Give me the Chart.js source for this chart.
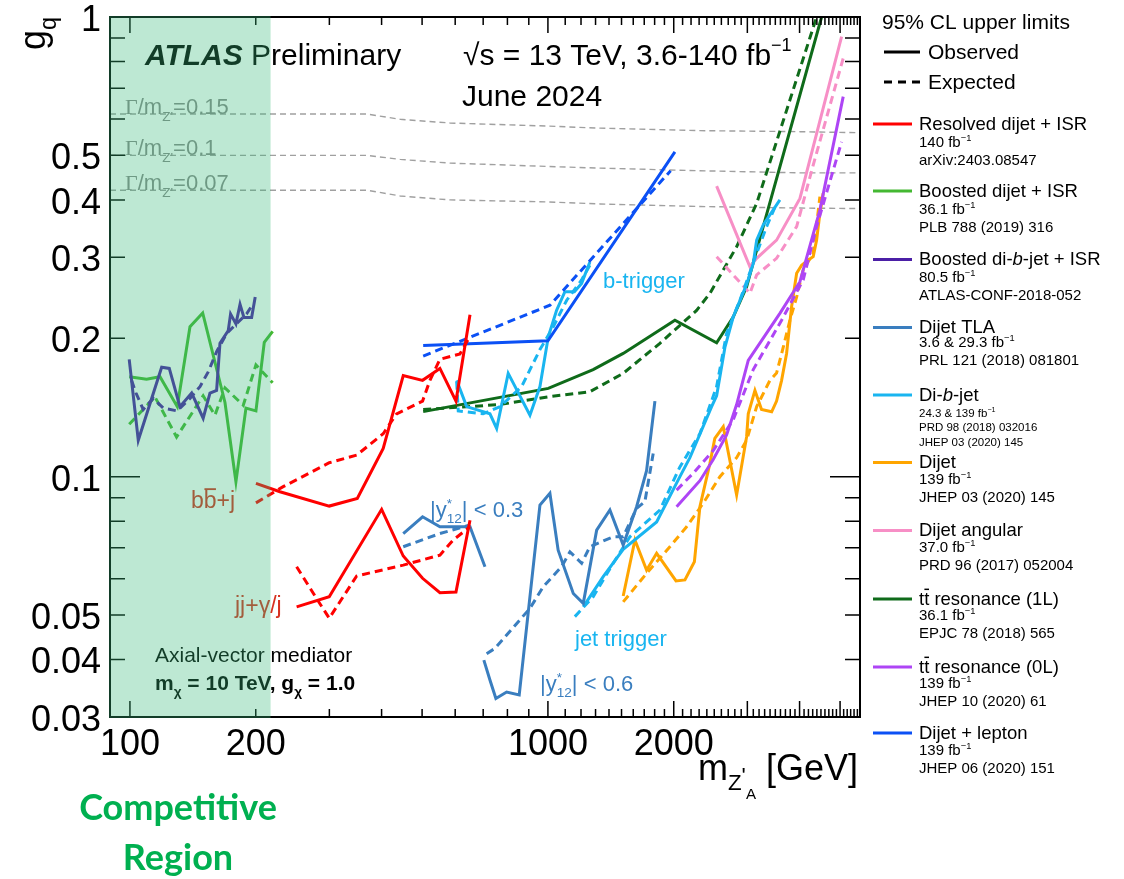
<!DOCTYPE html>
<html>
<head>
<meta charset="utf-8">
<script src="https://cdn.jsdelivr.net/npm/chart.js@4.4.1/dist/chart.umd.min.js"></script>
<style>
html, body { margin: 0; padding: 0; background: #fff; }
canvas { display: block; }
</style>
</head>
<body>
<canvas id="myChart" width="1124" height="879"></canvas>
<script>
// DATA  (points are [mass in GeV, g_q])

const xTickValues = [100, 200, 1000, 2000];
const yTickValues = [0.03, 0.04, 0.05, 0.1, 0.2, 0.3, 0.4, 0.5, 1];

// width lines Gamma/m
const gamma015 = [[89.6, 0.615], [369, 0.615], [443, 0.599], [583, 0.588], [1000, 0.579], [1332, 0.573], [2310, 0.566], [4008, 0.563], [5580, 0.560]];
const gamma010 = [[89.6, 0.500], [369, 0.500], [443, 0.490], [583, 0.481], [1000, 0.473], [1332, 0.469], [2310, 0.463], [4008, 0.458], [5580, 0.458]];
const gamma007 = [[89.6, 0.420], [369, 0.420], [443, 0.408], [583, 0.400], [1000, 0.396], [1332, 0.392], [2310, 0.387], [4008, 0.384], [5580, 0.383]];

// resolved dijet + ISR
const resBbObs = [[200.2, 0.0967], [228.5, 0.0927], [299.8, 0.0863], [349.9, 0.0897], [403.6, 0.1152], [450.7, 0.166], [501.3, 0.162], [551.6, 0.172], [602.6, 0.146], [651, 0.225]];
const resBbExp = [[200.2, 0.0877], [232.6, 0.0951], [299.8, 0.1072], [348.7, 0.1114], [403.6, 0.124], [434.5, 0.137], [501.3, 0.146], [522.1, 0.162], [551.6, 0.180], [616.1, 0.185], [651, 0.202]];
const resJjObs = [[250.5, 0.0521], [299.8, 0.0548], [400.1, 0.0849], [450.7, 0.0672], [501.3, 0.0601], [551.6, 0.0559], [602.6, 0.0561], [651, 0.0804]];
const resJjExp = [[250.5, 0.0637], [279.7, 0.0543], [299.8, 0.0492], [348.7, 0.0608], [450.7, 0.0642], [551.6, 0.0675], [593.5, 0.0728], [651, 0.0778]];

// boosted dijet + ISR
const boostDijetObs = [[99.6, 0.165], [109.6, 0.163], [118, 0.165], [129.8, 0.142], [139.2, 0.212], [149.3, 0.227], [168.8, 0.145], [179.3, 0.0975], [189.5, 0.141], [200.2, 0.139], [209.6, 0.196], [219.5, 0.207]];
const boostDijetExp = [[99.6, 0.130], [114.8, 0.149], [129.3, 0.122], [149.7, 0.150], [159.7, 0.136], [168.8, 0.156], [186.7, 0.143], [200.2, 0.175], [219.5, 0.160]];

// boosted di-b-jet + ISR
const boostBbObs = [[99.6, 0.180], [104.7, 0.120], [119.1, 0.173], [124.2, 0.172], [131.7, 0.142], [140.5, 0.152], [149.7, 0.134], [155.4, 0.152], [161.2, 0.154], [164.2, 0.195], [171.9, 0.208], [174.1, 0.226], [179.3, 0.215], [183.4, 0.237], [187.4, 0.222], [195.5, 0.222], [199.4, 0.246]];
const boostBbExp = [[100.9, 0.162], [103.4, 0.152], [107.6, 0.140], [113.7, 0.148], [120.2, 0.141], [129.8, 0.139], [139.2, 0.148], [147.1, 0.157], [153.9, 0.169], [161.2, 0.187], [170.4, 0.205], [190.2, 0.226], [197.2, 0.238]];

// dijet TLA
const tla03Obs = [[450.7, 0.0752], [501.3, 0.0818], [551.6, 0.0778], [651, 0.0778], [707, 0.0637]];
const tla03Exp = [[450.7, 0.0704], [551.6, 0.0752], [651, 0.0785]];
const tla06Obs = [[702.6, 0.0399], [726.6, 0.0361], [750.8, 0.0329], [796.6, 0.0340], [853.8, 0.0335], [957, 0.0867], [1011, 0.0920], [1058, 0.0692], [1150, 0.0557], [1215, 0.0530], [1308, 0.0765], [1407, 0.0846], [1514, 0.0710], [1630, 0.0860], [1722, 0.103], [1803, 0.146]];
const tla06Exp = [[713.5, 0.0412], [746.6, 0.0423], [905.7, 0.0517], [974.5, 0.0576], [1078, 0.0637], [1129, 0.0686], [1204, 0.0648], [1260, 0.0704], [1433, 0.0740], [1514, 0.0740], [1630, 0.0853], [1706, 0.0882], [1786, 0.1123]];

// di-b-jet
const dibBtrigObs = [[604.9, 0.162], [639.1, 0.142], [726.6, 0.137], [754, 0.1273], [803.5, 0.1678], [905.7, 0.136], [957, 0.157], [1002, 0.2015], [1049, 0.230], [1098, 0.2525], [1157, 0.2525], [1204, 0.2633], [1260, 0.293]];
const dibBtrigExp = [[604.9, 0.161], [610.2, 0.139], [700, 0.137], [767.9, 0.142], [865.1, 0.157], [957, 0.189], [1030, 0.2118], [1109, 0.242], [1204, 0.268], [1260, 0.2885]];
const dibJtrigObs = [[1215, 0.0521], [1356, 0.0606], [1514, 0.0695], [1820, 0.0797], [2069, 0.1000], [2186, 0.110], [2464, 0.142], [2533, 0.150], [2651, 0.191], [2775, 0.2225], [2988, 0.262], [3099, 0.291], [3158, 0.327], [3274, 0.353], [3589, 0.400]];
const dibJtrigExp = [[1160, 0.0496], [1283, 0.0548], [1433, 0.0648], [1571, 0.0740], [1853, 0.0846], [2069, 0.105], [2310, 0.124], [2533, 0.157], [2676, 0.205], [2879, 0.242], [3158, 0.306], [3336, 0.350], [3524, 0.393]];

// dijet
const dijetObs = [[1514, 0.0550], [1615, 0.0728], [1722, 0.0626], [1820, 0.0681], [2025, 0.0593], [2127, 0.0596], [2241, 0.0653], [2310, 0.0860], [2441, 0.1069], [2508, 0.1212], [2627, 0.1284], [2828, 0.0912], [2988, 0.1222], [3015, 0.137], [3128, 0.154], [3244, 0.140], [3430, 0.1384], [3524, 0.146], [3623, 0.162], [3724, 0.1854], [3828, 0.2343], [3936, 0.2769], [4045, 0.2885], [4195, 0.296], [4312, 0.301], [4393, 0.327], [4474, 0.374], [4556, 0.4135]];
const dijetExp = [[1514, 0.0534], [1722, 0.0616], [1958, 0.0704], [2147, 0.0778], [2352, 0.0875], [2579, 0.1000], [2828, 0.110], [2988, 0.120], [3158, 0.142], [3397, 0.162], [3524, 0.168], [3655, 0.191], [3793, 0.219], [3936, 0.246], [4081, 0.282], [4312, 0.306], [4474, 0.4065]];

// dijet angular
const angularObs = [[2533, 0.4287], [3043, 0.2862], [3158, 0.2985], [3524, 0.327], [4008, 0.403], [5042, 0.906]];
const angularExp = [[2533, 0.301], [3043, 0.2505], [3158, 0.2747], [3524, 0.2985], [3936, 0.350], [4312, 0.4764], [5087, 0.813]];

// ttbar resonance 1L / 0L
const tt1LObs = [[503, 0.1385], [1002, 0.1556], [1283, 0.171], [1514, 0.1854], [2013, 0.219], [2533, 0.1956], [2775, 0.2225], [2988, 0.259], [3158, 0.311], [4516, 1.0]];
const tt1LExp = [[503, 0.140], [767.9, 0.1435], [1002, 0.1492], [1260, 0.153], [1514, 0.1678], [1853, 0.195], [2268, 0.230], [2441, 0.2505], [2828, 0.3164], [3158, 0.393], [4393, 1.0]];
const tt0LObs = [[2032, 0.0860], [2310, 0.098], [2486, 0.109], [2676, 0.1232], [2828, 0.1435], [3015, 0.179], [3589, 0.2266], [4008, 0.2655], [4474, 0.380], [5087, 0.671]];
const tt0LExp = [[2032, 0.0935], [2226, 0.1017], [2486, 0.114], [2775, 0.133], [3099, 0.171], [3623, 0.219], [4081, 0.268], [4393, 0.350], [5042, 0.535]];

// dijet + lepton
const lepObs = [[503, 0.193], [1000, 0.1975], [2013, 0.509]];
const lepExp = [[503, 0.183], [616.1, 0.197], [1011, 0.236], [1966, 0.463]];

// COLOURS
const RED = "#ff0000";
const GREEN = "#44b832";
const INDIGO = "#4b1fa6";
const STEEL = "#3a7ebf";
const CYAN = "#19b5f0";
const ORANGE = "#ffa500";
const PINK = "#f78fc6";
const DKGREEN = "#0f6b1a";
const VIOLET = "#ae45f5";
const BLUE = "#0b50f5";
const GRAY = "#a0a0a0";

const SANS = '"Liberation Sans", Arial, Helvetica, sans-serif';
const SERIF = '"Liberation Serif", "DejaVu Serif", serif';

// SET-UP
function curve(points, color, dashed) {
	return {
		data: points.map(p => ({ x: p[0], y: p[1] })),
		borderColor: color,
		borderWidth: 3,
		borderDash: dashed ? [8, 5] : [],
		showLine: true,
		pointRadius: 0,
		fill: false,
		tension: 0,
	};
}

function widthLine(points) {
	const d = curve(points, GRAY, true);
	d.borderWidth = 1.4;
	d.borderDash = [6, 4];
	return d;
}

const datasets = [
	curve(resBbObs, RED), curve(resBbExp, RED, true),
	curve(resJjObs, RED), curve(resJjExp, RED, true),
	curve(boostBbObs, INDIGO), curve(boostBbExp, INDIGO, true),
	curve(boostDijetObs, GREEN), curve(boostDijetExp, GREEN, true),
	curve(lepObs, BLUE), curve(lepExp, BLUE, true),
	curve(tla03Obs, STEEL), curve(tla03Exp, STEEL, true),
	curve(tla06Obs, STEEL), curve(tla06Exp, STEEL, true),
	curve(dibBtrigObs, CYAN), curve(dibBtrigExp, CYAN, true),
	curve(dibJtrigObs, CYAN), curve(dibJtrigExp, CYAN, true),
	curve(tt0LObs, VIOLET), curve(tt0LExp, VIOLET, true),
	curve(dijetObs, ORANGE), curve(dijetExp, ORANGE, true),
	curve(angularObs, PINK), curve(angularExp, PINK, true),
	curve(tt1LObs, DKGREEN), curve(tt1LExp, DKGREEN, true),
	widthLine(gamma015), widthLine(gamma010), widthLine(gamma007),
];

// TEXT HELPER: parts are strings or {t, k (size factor), dy (in base sizes), it, b, f, c, over, stack}
function drawParts(ctx, x, y, parts, size, color, bold) {
	let cx = x;
	ctx.textAlign = "left";
	ctx.textBaseline = "alphabetic";
	parts.forEach(p => {
		if (typeof p === "string") p = { t: p };
		const sz = size * (p.k || 1);
		const st = (p.it ? "italic " : "") + (p.b || bold ? "bold " : "");
		ctx.font = st + sz + "px " + (p.f || SANS);
		ctx.fillStyle = p.c || color;
		if (p.stack) {
			ctx.fillText(p.stack[0], cx, y - 0.42 * size);
			ctx.fillText(p.stack[1], cx, y + 0.28 * size);
			cx += Math.max(ctx.measureText(p.stack[0]).width, ctx.measureText(p.stack[1]).width);
			return;
		}
		const yy = y + (p.dy || 0) * size;
		ctx.fillText(p.t, cx, yy);
		const w = ctx.measureText(p.t).width;
		if (p.over) {
			ctx.strokeStyle = p.c || color;
			ctx.lineWidth = Math.max(1.2, sz * 0.08);
			ctx.setLineDash([]);
			ctx.beginPath();
			ctx.moveTo(cx + w * 0.05, yy - sz * 0.82);
			ctx.lineTo(cx + w * 0.95, yy - sz * 0.82);
			ctx.stroke();
		}
		cx += w;
	});
	return cx;
}

const SUP = { t: "\u22121", k: 0.62, dy: -0.42 };
const SUBZ = { t: "Z'", k: 0.62, dy: 0.3 };
const SUBCHI = { t: "\u03c7", k: 0.65, dy: 0.3 };

const legendItems = [
	{ c: RED, y: 129.5, title: ["Resolved dijet + ISR"], subs: [[147, ["140 fb", SUP]], [165, ["arXiv:2403.08547"]]] },
	{ c: GREEN, y: 196.5, title: ["Boosted dijet + ISR"], subs: [[214, ["36.1 fb", SUP]], [231.5, ["PLB 788 (2019) 316"]]] },
	{ c: INDIGO, y: 265, title: ["Boosted di-", { t: "b", it: 1 }, "-jet + ISR"], subs: [[282, ["80.5 fb", SUP]], [300, ["ATLAS-CONF-2018-052"]]] },
	{ c: STEEL, y: 333, title: ["Dijet TLA"], subs: [[347, ["3.6 & 29.3 fb", SUP]], [364.5, ["PRL 121 (2018) 081801"]]] },
	{ c: CYAN, y: 400.5, title: ["Di-", { t: "b", it: 1 }, "-jet"], subs: [[417, ["24.3 & 139 fb", SUP]], [431, ["PRD 98 (2018) 032016"]], [446, ["JHEP 03 (2020) 145"]]], small: true },
	{ c: ORANGE, y: 468, title: ["Dijet"], subs: [[484, ["139 fb", SUP]], [502, ["JHEP 03 (2020) 145"]]] },
	{ c: PINK, y: 536, title: ["Dijet angular"], subs: [[552, ["37.0 fb", SUP]], [570, ["PRD 96 (2017) 052004"]]] },
	{ c: DKGREEN, y: 604.5, title: ["t", { t: "t", over: 1 }, " resonance (1L)"], subs: [[620, ["36.1 fb", SUP]], [638, ["EPJC 78 (2018) 565"]]] },
	{ c: VIOLET, y: 672.5, title: ["t", { t: "t", over: 1 }, " resonance (0L)"], subs: [[688, ["139 fb", SUP]], [706, ["JHEP 10 (2020) 61"]]] },
	{ c: BLUE, y: 738.5, title: ["Dijet + lepton"], subs: [[755, ["139 fb", SUP]], [773, ["JHEP 06 (2020) 151"]]] },
];

function hline(ctx, x1, x2, y, color, width, dash) {
	ctx.strokeStyle = color;
	ctx.lineWidth = width;
	ctx.setLineDash(dash || []);
	ctx.beginPath();
	ctx.moveTo(x1, y);
	ctx.lineTo(x2, y);
	ctx.stroke();
	ctx.setLineDash([]);
}

const decorations = {
	id: "decorations",
	afterDraw(chart) {
		const ctx = chart.ctx;
		const a = chart.chartArea;
		const xs = chart.scales.x;
		const ys = chart.scales.y;
		ctx.save();

		// texts inside the frame
		drawParts(ctx, 145, 65, [{ t: "ATLAS", it: 1, b: 1 }, " Preliminary"], 30, "#000");
		drawParts(ctx, 463, 65, ["\u221as = 13 TeV, 3.6-140 fb", { t: "\u22121", k: 0.6, dy: -0.48 }], 30, "#000");
		drawParts(ctx, 462, 106, ["June 2024"], 30, "#000");

		const gl = "#8a8a8a";
		drawParts(ctx, 125, 114, [{ t: "\u0393", f: SERIF }, "/m", SUBZ, "=0.15"], 22, gl);
		drawParts(ctx, 125, 155, [{ t: "\u0393", f: SERIF }, "/m", SUBZ, "=0.1"], 22, gl);
		drawParts(ctx, 125, 190, [{ t: "\u0393", f: SERIF }, "/m", SUBZ, "=0.07"], 22, gl);

		const lab = "#d7301f";
		drawParts(ctx, 191, 508, ["b", { t: "b", over: 1 }, "+j"], 23, lab);
		drawParts(ctx, 235, 613, ["jj+\u03b3/j"], 23, lab);
		drawParts(ctx, 430, 517, ["|y", { stack: ["*", "12"], k: 0.62 }, "| < 0.3"], 22, STEEL);
		drawParts(ctx, 540, 691, ["|y", { stack: ["*", "12"], k: 0.62 }, "| < 0.6"], 22, STEEL);
		drawParts(ctx, 603, 288, ["b-trigger"], 22, CYAN);
		drawParts(ctx, 575, 646, ["jet trigger"], 22, CYAN);

		drawParts(ctx, 155, 662, ["Axial-vector mediator"], 21, "#000");
		drawParts(ctx, 155, 690, ["m", SUBCHI, " = 10 TeV, g", SUBCHI, " = 1.0"], 21, "#000", true);

		// ticks
		ctx.strokeStyle = "#000";
		ctx.lineWidth = 1.5;
		ctx.setLineDash([]);
		ctx.beginPath();
		const xLong = [100, 1000, 2000, 3000, 4000, 5000];
		for (let v = 100; v <= 5500; v += 100) {
			const px = xs.getPixelForValue(v);
			const len = xLong.includes(v) ? 16 : 8;
			ctx.moveTo(px, a.bottom); ctx.lineTo(px, a.bottom - len);
			ctx.moveTo(px, a.top); ctx.lineTo(px, a.top + len);
		}
		const yMinor = [];
		for (let i = 3; i <= 9; i++) yMinor.push(i / 100);
		for (let i = 1; i <= 9; i++) yMinor.push(i / 10);
		yMinor.forEach(v => {
			const py = ys.getPixelForValue(v);
			const len = v === 0.1 ? 30 : 15;
			ctx.moveTo(a.left, py); ctx.lineTo(a.left + len, py);
			ctx.moveTo(a.right, py); ctx.lineTo(a.right - len, py);
		});
		ctx.stroke();

		// frame
		ctx.lineWidth = 2;
		ctx.strokeRect(a.left, a.top, a.right - a.left, a.bottom - a.top);

		// competitive region overlay
		const xr = xs.getPixelForValue(217);
		ctx.fillStyle = "rgba(55,185,121,0.33)";
		ctx.fillRect(a.left - 1, a.top - 1, xr - a.left + 1, a.bottom - a.top + 2);

		// legend
		drawParts(ctx, 882, 29, ["95% CL upper limits"], 21, "#000");
		hline(ctx, 884, 920, 52, "#000", 3);
		drawParts(ctx, 928, 59, ["Observed"], 21, "#000");
		hline(ctx, 884, 920, 82, "#000", 3, [8, 6]);
		drawParts(ctx, 928, 89, ["Expected"], 21, "#000");
		legendItems.forEach(it => {
			hline(ctx, 873, 912, it.y - 5.5, it.c, 3);
			drawParts(ctx, 919, it.y, it.title, 18.5, "#000");
			it.subs.forEach(s => drawParts(ctx, 919, s[0], s[1], it.small ? 11.5 : 15, "#000"));
		});

		// axis titles
		drawParts(ctx, 698, 780, ["m", { t: "Z", k: 0.62, dy: 0.28 }, { t: "'", k: 0.62, dy: 0.08 }, { t: "A", k: 0.42, dy: 0.52 }, " [GeV]"], 36, "#000");
		ctx.save();
		ctx.translate(45, 50);
		ctx.rotate(-Math.PI / 2);
		drawParts(ctx, 0, 0, ["g", { t: "q", k: 0.65, dy: 0.3 }], 36, "#000");
		ctx.restore();

		// competitive region caption
		ctx.font = "bold 36px Lato, 'Open Sans', sans-serif";
		ctx.fillStyle = "#00b050";
		ctx.textAlign = "center";
		ctx.fillText("Competitive", 178, 820);
		ctx.fillText("Region", 178, 870);

		ctx.restore();
	},
};

function noEdgePadding(s) {
	s.paddingTop = 0;
	s.paddingBottom = 0;
	s.paddingLeft = 0;
	s.paddingRight = 0;
}

// CONFIG
const config = {
	type: "scatter",
	data: { datasets: datasets },
	options: {
		responsive: false,
		animation: false,
		layout: { padding: { left: 0, right: 264, top: 17, bottom: 100 } },
		plugins: { legend: { display: false }, tooltip: { enabled: false } },
		scales: {
			x: {
				type: "logarithmic",
				min: 89.6,
				max: 5580,
				bounds: "data",
				grid: { display: false, drawTicks: false },
				border: { display: false },
				ticks: {
					autoSkip: false,
					maxRotation: 0,
					padding: 6,
					color: "#000",
					font: { family: SANS, size: 36 },
					callback: v => String(v),
				},
				afterBuildTicks: s => { s.ticks = xTickValues.map(v => ({ value: v })); },
				afterFit: s => { s.height = 62; noEdgePadding(s); },
			},
			y: {
				type: "logarithmic",
				min: 0.03,
				max: 1,
				bounds: "data",
				grid: { display: false, drawTicks: false },
				border: { display: false },
				ticks: {
					autoSkip: false,
					padding: 9,
					labelOffset: 4,
					color: "#000",
					font: { family: SANS, size: 36 },
					callback: v => String(v),
				},
				afterBuildTicks: s => { s.ticks = yTickValues.map(v => ({ value: v })); },
				afterFit: s => { s.width = 110; noEdgePadding(s); },
			},
		},
	},
	plugins: [decorations],
};

// RENDER
var myChart = new Chart(document.getElementById("myChart"), config);
</script>
</body>
</html>
